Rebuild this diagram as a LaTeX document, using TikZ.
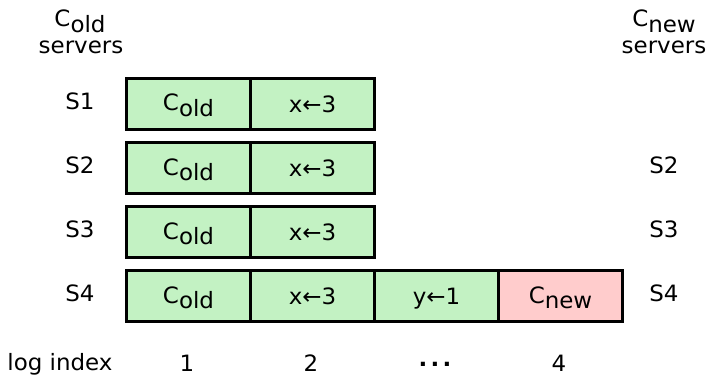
\documentclass[tikz,border=0pt]{standalone}
\usepackage{fontspec}
\setmainfont{DejaVu Sans}[FakeStretch=1.02]
\definecolor{cellgreen}{HTML}{C3F2C3}
\definecolor{cellred}{HTML}{FFCCCC}
\newcommand{\Csub}[1]{C\raisebox{-5.7pt}{#1}}
\begin{document}
\begin{tikzpicture}[x=1pt,y=-1pt,
  every node/.style={font=\fontsize{22.5}{27}\selectfont},
  cell/.style={draw=black,line width=3pt,minimum width=124pt,minimum height=51pt,inner sep=0pt,anchor=north west,text height=18pt,text depth=4pt},
  gcell/.style={cell,fill=cellgreen},
  rcell/.style={cell,fill=cellred},
  opcell/.style={gcell,text height=20pt,text depth=3pt},
  lbl/.style={inner sep=0pt,anchor=base},
  hdr/.style={align=center,inner sep=0pt,anchor=base}]
\useasboundingbox (0,0) rectangle (709,377);
% headers
\node[hdr] (hold) at (80,27) {\Csub{old}};
\node[hdr] (hold2) at (81,54) {servers};
\node[hdr] (hnew) at (664,27) {\Csub{new}};
\node[hdr] (hnew2) at (664,54) {servers};
% rows
\foreach \r/\y in {1/77,2/141,3/205,4/269}{
  \node[gcell] (c\r1) at (125,\y) {\Csub{old}};
  \node[opcell] (c\r2) at (249,\y) {x←3};
  \node[lbl] (l\r) at (80,\y+32.5) {S\r};
}
\node[opcell] (c43) at (373,269) {y←1};
\node[rcell] (c44) at (497,269) {\Csub{new}};
\node[lbl] (r2) at (664,173.5) {S2};
\node[lbl] (r3) at (664,237.5) {S3};
\node[lbl] (r4) at (664,301.5) {S4};
% log index
\node[lbl] (li) at (60,370) {log index};
\node[lbl] (i1) at (187,371) {1};
\node[lbl] (i2) at (311,371) {2};
\node[lbl] (i3) at (435,366) {\textbf{.\kern3.2pt.\kern3.2pt.}};
\node[lbl] (i4) at (559,371) {4};
\end{tikzpicture}
\end{document}
